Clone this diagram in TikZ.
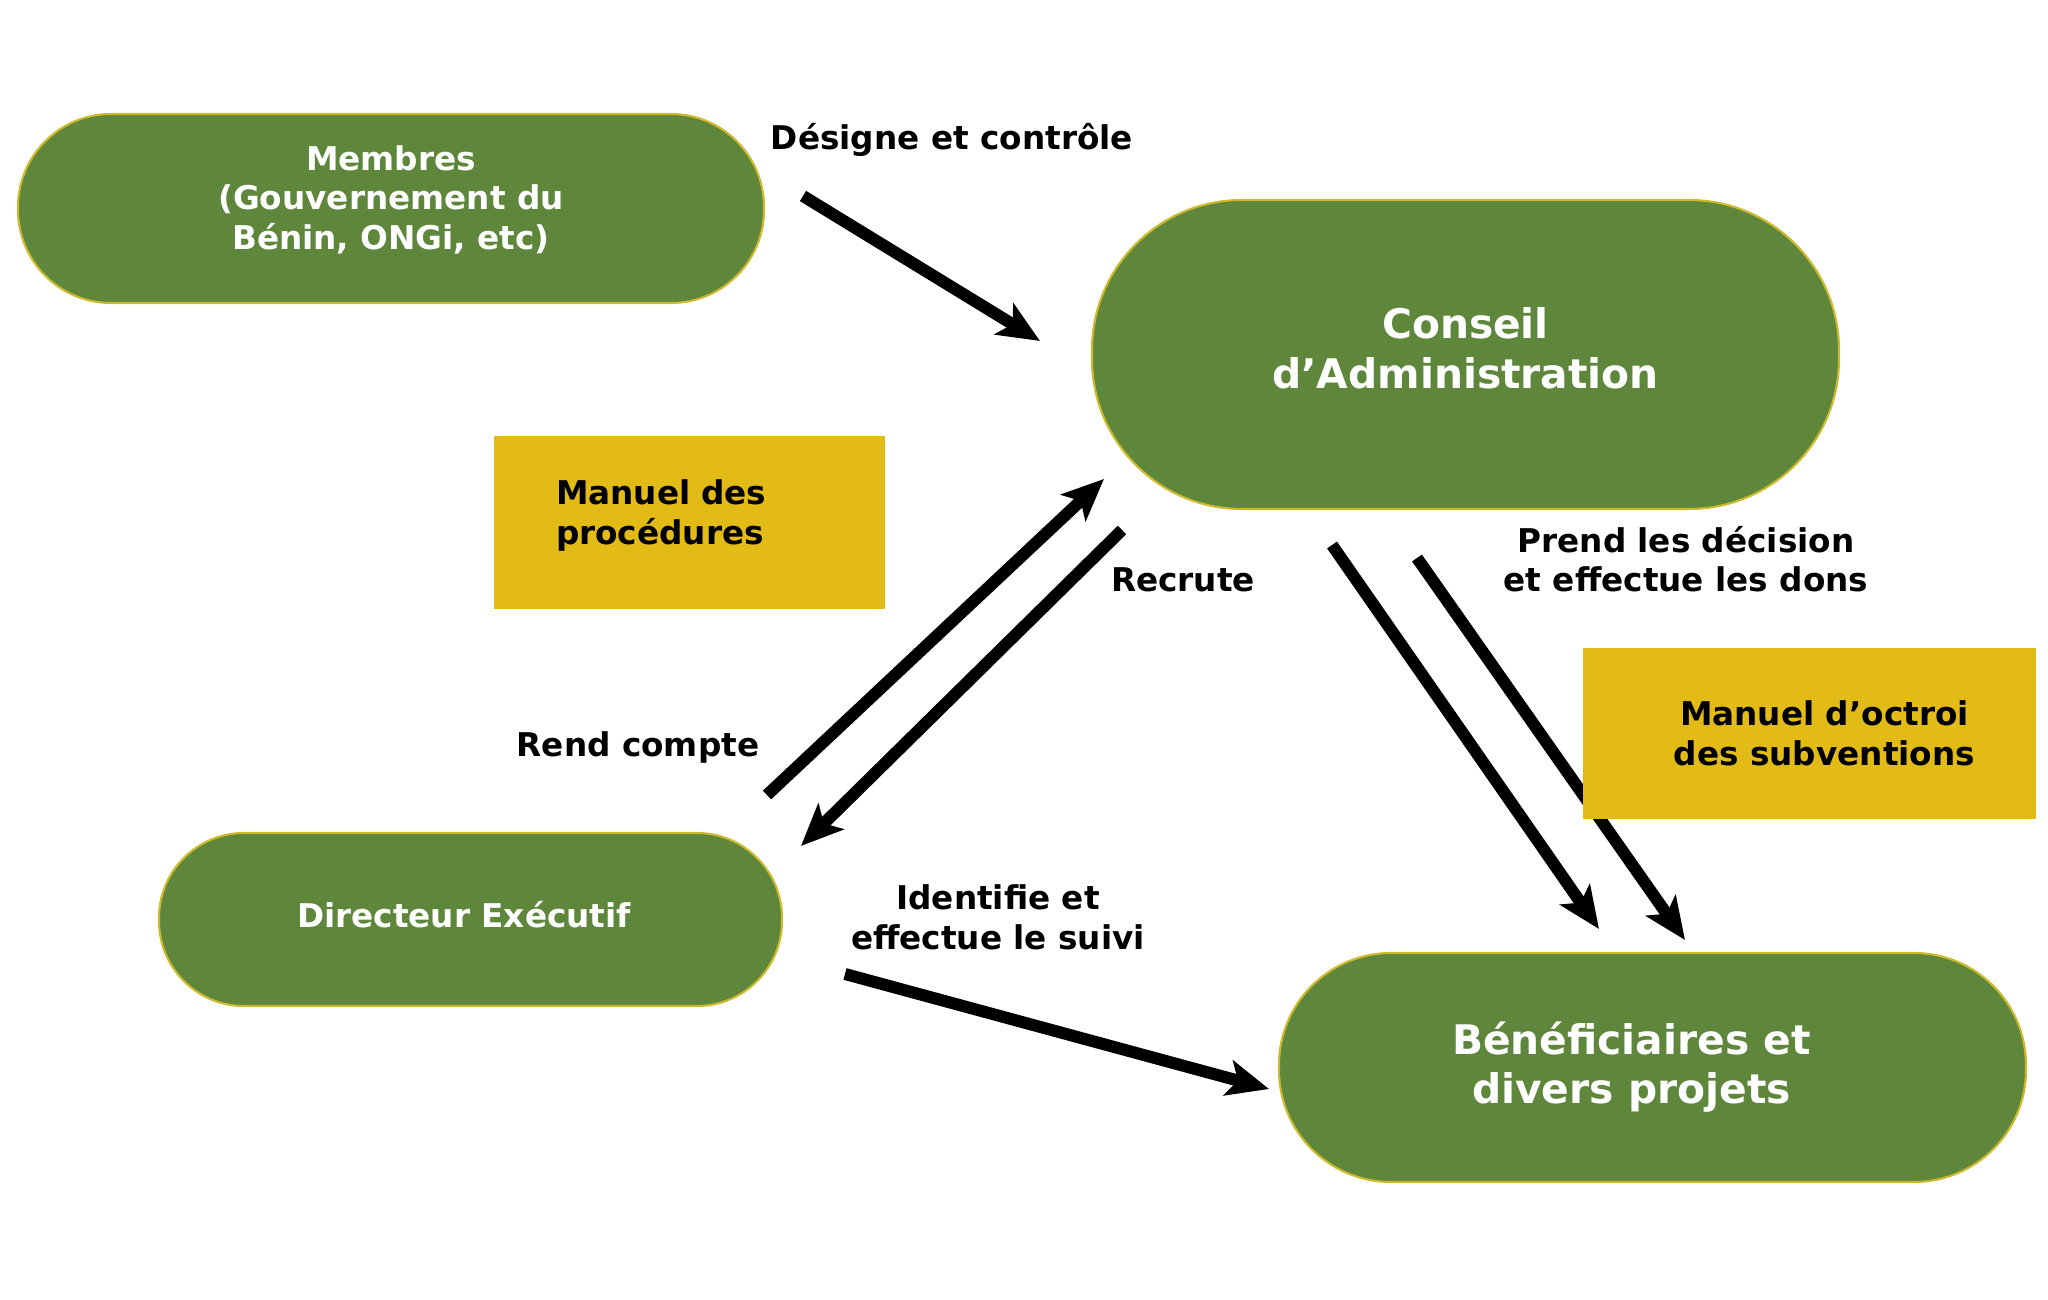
\documentclass[tikz,border=0pt]{standalone}
\usepackage{fontspec}
\setmainfont{DejaVu Sans}
\usetikzlibrary{arrows.meta}
\definecolor{pillgreen}{RGB}{94,135,60}
\definecolor{pilledge}{RGB}{205,185,45}
\definecolor{manualyellow}{RGB}{226,187,22}
\tikzstyle{pill}=[fill=pillgreen, draw=pilledge, line width=0.6pt, text=white, align=center, inner sep=0pt, font=\bfseries\fontsize{9.3}{11.2}\selectfont]
\tikzstyle{bigpill}=[pill, font=\bfseries\fontsize{11.6}{14}\selectfont]
\tikzstyle{manual}=[fill=manualyellow, inner sep=0pt, font=\bfseries\fontsize{9.3}{11.2}\selectfont]
\tikzstyle{flowtext}=[align=center, font=\bfseries\fontsize{9.3}{11.2}\selectfont]
\tikzstyle{flow}=[line width=0.12cm, -{Stealth[length=0.42cm, width=0.36cm, inset=0.1cm]}]

\begin{document}
\begin{tikzpicture}
\useasboundingbox (0,0) rectangle (20.48,-13);
\node[pill, minimum width=7.46cm, minimum height=1.89cm, rounded corners=0.93cm, text depth=0.22cm] (Membres) at (3.91,-2.085) {Membres\\(Gouvernement du\\Bénin, ONGi, etc)};
\node[bigpill, minimum width=7.47cm, minimum height=3.09cm, rounded corners=1.5cm, text depth=0.13cm] (Conseil) at (14.655,-3.545) {Conseil\\d’Administration};
\node[pill, minimum width=6.23cm, minimum height=1.73cm, rounded corners=0.85cm, text depth=0.1cm] (Directeur) at (4.705,-9.195) {Directeur Exécutif\hspace*{0.13cm}};
\node[bigpill, minimum width=7.47cm, minimum height=2.29cm, rounded corners=1.12cm] (Benef) at (16.525,-10.675) {Bénéficiaires et\hspace*{0.42cm}\\divers projets\hspace*{0.42cm}};
\node[flowtext] (Designe) at (9.52,-1.40) {Désigne et contrôle};
\node[flowtext] (Recrute) at (11.83,-5.80) {Recrute};
\node[flowtext] (Rend) at (6.38,-7.47) {Rend compte};
\node[flowtext] (Prend) at (16.86,-5.59) {Prend les décision\\et effectue les dons};
\node[flowtext] (Identifie) at (9.98,-9.175) {Identifie et\\effectue le suivi};
\coordinate (D0) at (8.03,-1.96);
\coordinate (D1) at (10.40,-3.41);
\coordinate (R0) at (7.67,-7.95);
\coordinate (R1) at (11.04,-4.79);
\coordinate (C0) at (11.22,-5.30);
\coordinate (C1) at (8.01,-8.46);
\coordinate (P0) at (13.32,-5.45);
\coordinate (P1) at (15.99,-9.29);
\coordinate (Q0) at (14.17,-5.58);
\coordinate (Q1) at (16.85,-9.40);
\coordinate (I0) at (8.45,-9.74);
\coordinate (I1) at (12.69,-10.89);
\draw[flow] (D0) -- (D1);
\draw[flow] (R0) -- (R1);
\draw[flow] (C0) -- (C1);
\draw[flow] (P0) -- (P1);
\draw[flow] (Q0) -- (Q1);
\draw[flow] (I0) -- (I1);
\node[manual, minimum width=3.91cm, minimum height=1.73cm, inner xsep=0.62cm, text width=2.67cm, align=left, text depth=0.6cm] (Procedures) at (6.895,-5.225) {Manuel des\\procédures};
\node[manual, minimum width=4.53cm, minimum height=1.71cm, align=center] (Octroi) at (18.095,-7.335) {\hspace*{0.3cm}Manuel d’octroi\\\hspace*{0.3cm}des subventions};
\end{tikzpicture}
\end{document}
